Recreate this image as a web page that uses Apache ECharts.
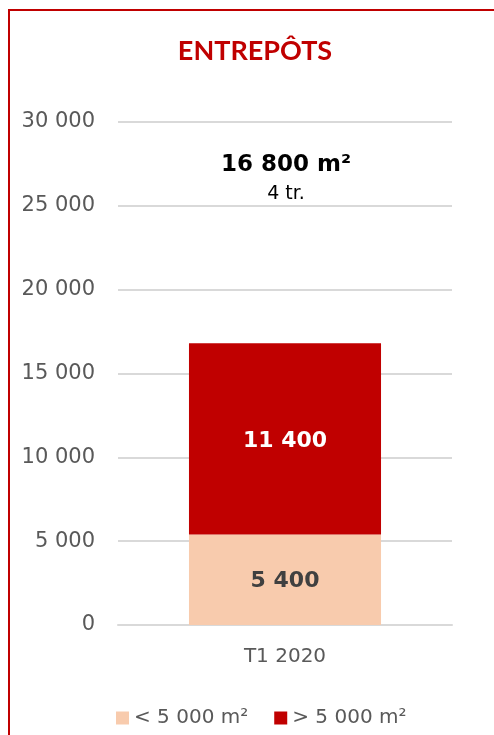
<!DOCTYPE html>
<html>
<head>
<meta charset="utf-8">
<script src="https://cdn.jsdelivr.net/npm/echarts@6/dist/echarts.min.js"></script>
<style>
  html, body { margin: 0; padding: 0; background: #fff; }
  #wrap { position: relative; width: 494px; height: 735px; overflow: hidden; }
  #frame { position: absolute; left: 8px; top: 9px; width: 520px; height: 760px;
           border-left: 2px solid #C00000; border-top: 2px solid #C00000; box-sizing: border-box; }
  #chart { position: absolute; left: 0; top: 0; width: 494px; height: 735px; }
</style>
</head>
<body>
<div id="wrap">
  <div id="frame"></div>
  <div id="chart"></div>
</div>
<script>
// Warehouse take-up, Q1 2020, split by unit size
const categories = ['T1 2020'];
const seriesNames = ['< 5 000 m²', '> 5 000 m²'];
const smallUnits = [5400];
const largeUnits = [11400];
const transactions = [4];
const yTicks = [0, 5000, 10000, 15000, 20000, 25000, 30000];

const fmt = v => String(v).replace(/\B(?=(\d{3})+(?!\d))/g, ' ');
const total = smallUnits[0] + largeUnits[0];

const chart = echarts.init(document.getElementById('chart'), null, { renderer: 'canvas' });
chart.setOption({
  animation: false,
  backgroundColor: 'transparent',
  title: [
    {
      text: 'ENTREPÔTS',
      left: 250, top: 33, textAlign: 'center',
      textStyle: { fontFamily: 'Lato', fontWeight: 'bold', fontSize: 27, color: '#C00000' }
    },
    {
      text: '{a|' + fmt(total) + ' m²}\n{b|' + transactions[0] + ' tr.}',
      left: 281, top: 144, textAlign: 'center',
      textStyle: {
        fontWeight: 'normal',
        rich: {
          a: { fontFamily: 'DejaVu Sans', fontWeight: 'bold', fontSize: 23, color: '#000', lineHeight: 32, align: 'center' },
          b: { fontFamily: 'DejaVu Sans', fontWeight: 'normal', fontSize: 19, color: '#000', lineHeight: 26, align: 'center' }
        }
      }
    }
  ],
  grid: { left: 118, right: 42, top: 122, bottom: 110, containLabel: false },
  legend: {
    left: 111, top: 703,
    itemWidth: 13, itemHeight: 13, itemGap: 26,
    icon: 'rect',
    textStyle: { fontFamily: 'DejaVu Sans', fontSize: 20, color: '#595959' },
    data: seriesNames
  },
  xAxis: {
    type: 'category',
    data: categories,
    axisLine: { lineStyle: { color: '#d9d9d9', width: 2 } },
    axisTick: { show: false },
    axisLabel: { fontFamily: 'DejaVu Sans', fontSize: 20, color: '#595959', margin: 22 }
  },
  yAxis: {
    type: 'value',
    min: yTicks[0], max: yTicks[yTicks.length - 1], interval: yTicks[1] - yTicks[0],
    axisLine: { show: false },
    axisTick: { show: false },
    splitLine: { lineStyle: { color: '#d9d9d9', width: 2 } },
    axisLabel: { fontFamily: 'DejaVu Sans', fontSize: 21, color: '#595959', margin: 23, formatter: v => fmt(v) }
  },
  series: [
    {
      name: seriesNames[0], type: 'bar', stack: 'total', data: smallUnits,
      barWidth: '57.5%',
      itemStyle: { color: '#F8CBAD' },
      label: { show: true, position: 'inside', formatter: p => fmt(p.value),
               fontFamily: 'DejaVu Sans', fontWeight: 'bold', fontSize: 22, color: '#404040', offset: [0, 2] }
    },
    {
      name: seriesNames[1], type: 'bar', stack: 'total', data: largeUnits,
      barWidth: '57.5%',
      itemStyle: { color: '#C00000' },
      label: { show: true, position: 'inside', formatter: p => fmt(p.value),
               fontFamily: 'DejaVu Sans', fontWeight: 'bold', fontSize: 22, color: '#fff', offset: [0, 2] }
    }
  ]
});
</script>
</body>
</html>
